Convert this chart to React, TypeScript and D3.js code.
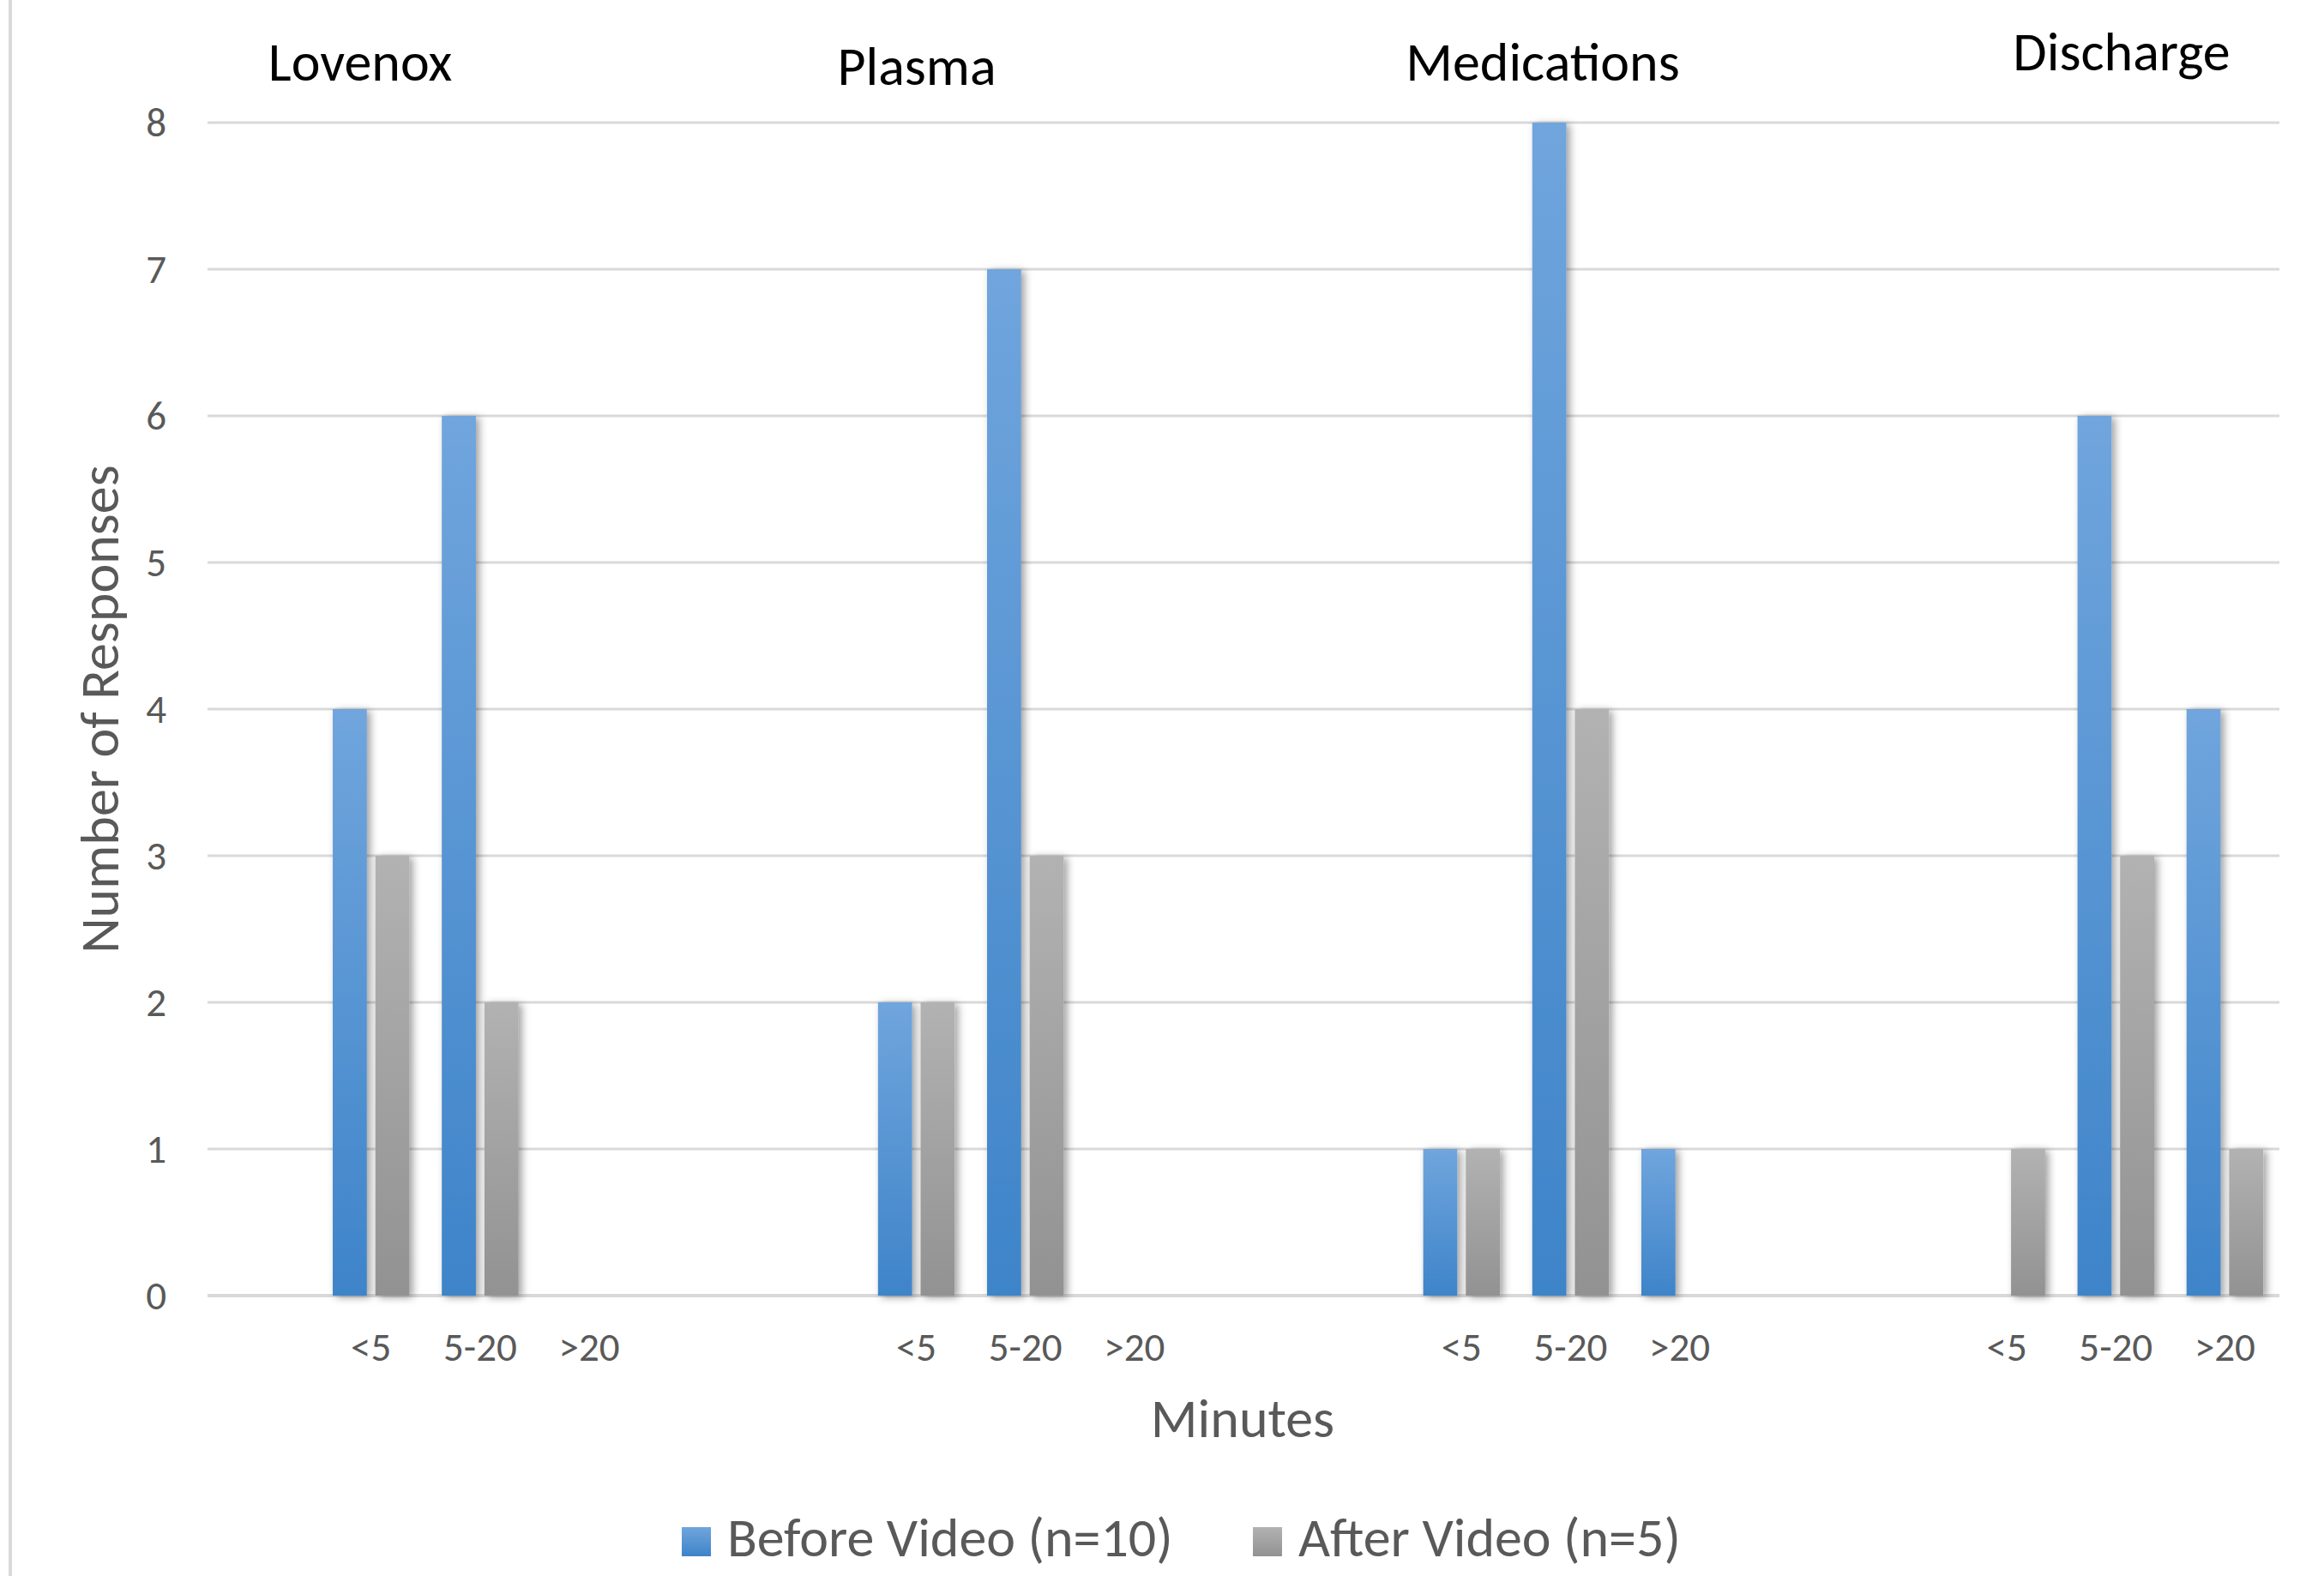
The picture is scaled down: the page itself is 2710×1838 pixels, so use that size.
import React from "react";
import * as d3 from "d3";

// Response counts per task, split by time bin
const groups = ["Lovenox", "Plasma", "Medications", "Discharge"];
const bins = ["<5", "5-20", ">20"];
const beforeVideo = [4, 6, 0, 2, 7, 0, 1, 8, 1, 0, 6, 4];
const afterVideo = [3, 2, 0, 2, 3, 0, 1, 4, 0, 1, 3, 1];
const seriesNames = ["Before Video (n=10)", "After Video (n=5)"];
const yTicks = [0, 1, 2, 3, 4, 5, 6, 7, 8];

const W = 2710;
const H = 1838;
const FONT = "Carlito, Lato, 'Open Sans', sans-serif";
const TEXT_GREY = "#595959";
const GRID = "#d9d9d9";

// Group title boxes sit freely above the plot
const titleLayout = [
  { x: 420, y: 94 },
  { x: 1069, y: 99 },
  { x: 1799, y: 94 },
  { x: 2474, y: 82 },
];

type Cell = { key: string; group: number; bin: number; index: number };

// The category axis holds empty slots between groups
const cells: Cell[] = [];
groups.forEach((g, gi) =>
  bins.forEach((b, bi) =>
    cells.push({ key: `${g}|${b}`, group: gi, bin: bi, index: gi * bins.length + bi })
  )
);
const domain: string[] = ["gap-0"];
groups.forEach((g, gi) => {
  if (gi > 0) domain.push(`gap-${gi}a`, `gap-${gi}b`);
  bins.forEach((b) => domain.push(`${g}|${b}`));
});

export default function App() {
  const plot = { left: 242, right: 2658, top: 143, bottom: 1511 };

  const x = d3.scaleBand<string>().domain(domain).range([plot.left, plot.right]);
  const xs = d3
    .scaleBand<number>()
    .domain([0, 1])
    .range([0, x.bandwidth()])
    .paddingInner(0.2)
    .paddingOuter(0.38);
  const y = d3.scaleLinear().domain([0, 8]).range([plot.bottom, plot.top]);

  const series = [beforeVideo, afterVideo];
  const fills = ["url(#gradBlue)", "url(#gradGrey)"];

  return (
    <svg
      width={W}
      height={H}
      viewBox={`0 0 ${W} ${H}`}
      style={{ position: "absolute", left: 0, top: 0, background: "#fff" }}
      fontFamily={FONT}
    >
      <defs>
        <linearGradient id="gradBlue" x1="0" y1="0" x2="0" y2="1">
          <stop offset="0%" stopColor="#70a5dd" />
          <stop offset="100%" stopColor="#3e84c9" />
        </linearGradient>
        <linearGradient id="gradGrey" x1="0" y1="0" x2="0" y2="1">
          <stop offset="0%" stopColor="#b2b2b2" />
          <stop offset="100%" stopColor="#929292" />
        </linearGradient>
        <filter id="barShadow" x="-50%" y="-10%" width="200%" height="120%">
          <feDropShadow dx="4" dy="2" stdDeviation="5" floodColor="#000" floodOpacity="0.38" />
        </filter>
      </defs>

      <rect x={0} y={0} width={W} height={H} fill="#fff" />
      <line x1={12} x2={12} y1={0} y2={H} stroke={GRID} strokeWidth={4} />

      {/* gridlines */}
      {yTicks.map((t) => (
        <line
          key={`g${t}`}
          x1={plot.left}
          x2={plot.right}
          y1={y(t)}
          y2={y(t)}
          stroke={GRID}
          strokeWidth={t === 0 ? 4 : 3}
        />
      ))}

      {/* y tick labels */}
      {yTicks.map((t) => (
        <text
          key={`yl${t}`}
          x={194}
          y={y(t)}
          textAnchor="end"
          dominantBaseline="central"
          fontSize={47}
          fill={TEXT_GREY}
        >
          {t}
        </text>
      ))}

      {/* bars */}
      <g filter="url(#barShadow)">
        {cells.map((c) =>
          series.map((s, si) => {
            const v = s[c.index];
            if (!v) return null;
            const x0 = (x(c.key) as number) + (xs(si) as number);
            return (
              <rect
                key={`${c.key}-${si}`}
                x={x0}
                y={y(v)}
                width={xs.bandwidth()}
                height={y(0) - y(v)}
                fill={fills[si]}
              />
            );
          })
        )}
      </g>

      {/* category labels */}
      {cells.map((c) => (
        <text
          key={`cl${c.key}`}
          x={(x(c.key) as number) + x.bandwidth() / 2}
          y={1587}
          textAnchor="middle"
          fontSize={47}
          fill={TEXT_GREY}
        >
          {bins[c.bin]}
        </text>
      ))}

      {/* group titles */}
      {groups.map((g, gi) => (
        <text
          key={`t${g}`}
          x={titleLayout[gi].x}
          y={titleLayout[gi].y}
          textAnchor="middle"
          fontSize={64}
          fill="#000"
        >
          {g}
        </text>
      ))}

      {/* axis titles */}
      <text x={1449} y={1676} textAnchor="middle" fontSize={64} fill={TEXT_GREY}>
        Minutes
      </text>
      <text
        transform={`translate(138, ${(plot.top + plot.bottom) / 2}) rotate(-90)`}
        textAnchor="middle"
        fontSize={64}
        fill={TEXT_GREY}
      >
        Number of Responses
      </text>

      {/* legend */}
      {seriesNames.map((name, i) => {
        const lx = [795, 1461][i];
        return (
          <g key={`lg${i}`}>
            <rect x={lx} y={1781} width={34} height={34} fill={fills[i]} />
            <text x={lx + 53} y={1815} fontSize={64} fill={TEXT_GREY}>
              {name}
            </text>
          </g>
        );
      })}
    </svg>
  );
}
